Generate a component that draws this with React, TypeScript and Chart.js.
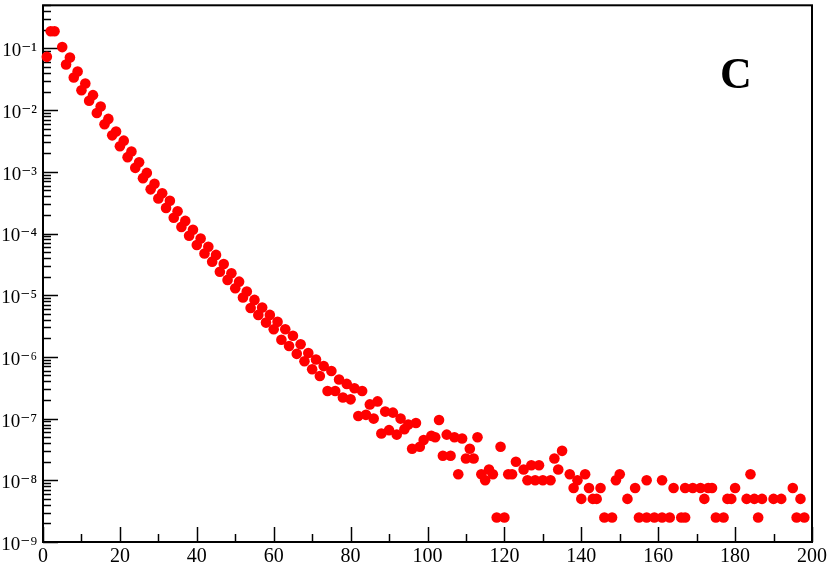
import { useEffect, useRef } from 'react';
import { Chart, registerables } from 'chart.js';

Chart.register(...registerables);

// Data (x: index, y: value on a log scale)
const xValues: number[] = [
  1, 2, 3, 5, 6, 7, 8, 9, 10, 11, 12, 13, 14, 15, 16, 17, 18, 19, 20,
  21, 22, 23, 24, 25, 26, 27, 28, 29, 30, 31, 32, 33, 34, 35, 36, 37, 38, 39, 40,
  41, 42, 43, 44, 45, 46, 47, 48, 49, 50, 51, 52, 53, 54, 55, 56, 57, 58, 59, 60,
  61, 62, 63, 64, 65, 66, 67, 68, 69, 70, 71, 72, 73, 74, 75, 76, 77, 78, 79, 80,
  81, 82, 83, 84, 85, 86, 87, 88, 89, 90, 91, 92, 93, 94, 95, 96, 97, 98, 99,
  101, 102, 103, 104, 105, 106, 107, 108, 109, 110, 111, 112, 113, 114, 115, 116, 117, 118, 119, 120,
  121, 122, 123, 125, 126, 127, 128, 129, 130, 132, 133, 134, 135, 137, 138, 139, 140,
  141, 142, 143, 144, 145, 146, 148, 149, 150, 152, 154, 155, 157, 157, 159, 161, 161, 163, 164,
  166, 167, 167, 169, 171, 172, 173, 174, 175, 177, 178, 179, 180,
  183, 184, 185, 186, 187, 190, 192, 195, 196, 197, 198,
];

const yValues: number[] = [
  0.073, 0.19, 0.19, 0.105, 0.055, 0.071, 0.0337, 0.0421, 0.021, 0.027, 0.0142, 0.0175, 0.009, 0.0114, 0.0059, 0.0072, 0.0039, 0.0045, 0.0026,
  0.0032, 0.00173, 0.00213, 0.00116, 0.00143, 0.00079, 0.00096, 0.00052, 0.00064, 0.00037, 0.00045, 0.00026, 0.00034, 0.00018, 0.00023, 0.000128, 0.00016, 0.000092, 0.000115, 6.5e-5,
  8.3e-5, 4.75e-5, 6.1e-5, 3.5e-5, 4.5e-5, 2.4e-5, 3.2e-5, 1.77e-5, 2.27e-5, 1.3e-5, 1.66e-5, 9.2e-6, 1.15e-5, 6.2e-6, 8.4e-6, 4.8e-6, 6.3e-6, 3.6e-6, 4.8e-6, 2.8e-6,
  3.7e-6, 1.9e-6, 2.8e-6, 1.5e-6, 2.2e-6, 1.12e-6, 1.6e-6, 8.5e-7, 1.16e-6, 6.3e-7, 9.1e-7, 4.9e-7, 7.1e-7, 2.8e-7, 5.9e-7, 2.8e-7, 4.3e-7, 2.2e-7, 3.65e-7, 2.05e-7,
  3.1e-7, 1.1e-7, 2.8e-7, 1.15e-7, 1.7e-7, 1.0e-7, 1.9e-7, 5.75e-8, 1.3e-7, 6.5e-8, 1.25e-7, 5.5e-8, 1.0e-7, 6.75e-8, 8e-8, 3.25e-8, 8.5e-8, 3.5e-8, 4.5e-8,
  5.25e-8, 5e-8, 9.5e-8, 2.5e-8, 5.5e-8, 2.5e-8, 5e-8, 1.25e-8, 4.75e-8, 2.25e-8, 3.25e-8, 2.25e-8, 5e-8, 1.25e-8, 1e-8, 1.5e-8, 1.25e-8, 2.5e-9, 3.5e-8, 2.5e-9,
  1.25e-8, 1.25e-8, 2e-8, 1.5e-8, 1e-8, 1.75e-8, 1e-8, 1.75e-8, 1e-8, 1e-8, 2.25e-8, 1.5e-8, 3e-8, 1.25e-8, 7.5e-9, 1e-8, 5e-9,
  1.25e-8, 7.5e-9, 5e-9, 5e-9, 7.5e-9, 2.5e-9, 2.5e-9, 1e-8, 1.25e-8, 5e-9, 7.5e-9, 2.5e-9, 2.5e-9, 1e-8, 2.5e-9, 2.5e-9, 1e-8, 2.5e-9, 7.5e-9,
  2.5e-9, 2.5e-9, 7.5e-9, 7.5e-9, 7.5e-9, 5e-9, 7.5e-9, 7.5e-9, 2.5e-9, 2.5e-9, 5e-9, 5e-9, 7.5e-9,
  5e-9, 1.25e-8, 5e-9, 2.5e-9, 5e-9, 5e-9, 5e-9, 7.5e-9, 2.5e-9, 5e-9, 2.5e-9,
];

const xTickValues: number[] = [0, 20, 40, 60, 80, 100, 120, 140, 160, 180, 200];
const xTickLabels: string[] = ['0', '20', '40', '60', '80', '100', '120', '140', '160', '180', '200'];
const yTickValues: number[] = [1e-9, 1e-8, 1e-7, 1e-6, 1e-5, 1e-4, 1e-3, 1e-2, 1e-1];
const yTickLabels: string[] = ['10⁻⁹', '10⁻⁸', '10⁻⁷', '10⁻⁶', '10⁻⁵', '10⁻⁴', '10⁻³', '10⁻²', '10⁻¹'];
const panelLabel = 'C';

const SERIF = "'Liberation Serif', 'Times New Roman', 'DejaVu Serif', serif";

const framePlugin = {
  id: 'framePlugin',
  beforeDatasetsDraw(chart: any) {
    const { ctx, chartArea } = chart;
    const xs = chart.scales.x;
    const ys = chart.scales.y;
    const { left, right, top, bottom } = chartArea;
    ctx.save();
    ctx.strokeStyle = '#000';
    ctx.lineWidth = 2;
    ctx.strokeRect(left, top, right - left, bottom - top);
    ctx.lineWidth = 1.5;
    // x ticks (inward)
    const xmin = xs.min, xmax = xs.max;
    for (let v = xmin; v <= xmax + 1e-9; v += 10) {
      const px = Math.round(xs.getPixelForValue(v)) + 0.5;
      const major = Math.abs(v % 20) < 1e-9;
      const len = major ? 15 : 8;
      ctx.beginPath();
      ctx.moveTo(px, bottom);
      ctx.lineTo(px, bottom - len);
      ctx.stroke();
    }
    // y ticks (inward, log)
    for (const dec of yTickValues) {
      for (let m = 1; m <= 9; m++) {
        const v = dec * m;
        if (v < ys.min * 0.999 || v > ys.max * 1.001) continue;
        const py = Math.round(ys.getPixelForValue(v)) + 0.5;
        const len = m === 1 ? 15 : 8;
        ctx.beginPath();
        ctx.moveTo(left, py);
        ctx.lineTo(left + len, py);
        ctx.stroke();
      }
    }
    ctx.restore();
  },
  afterDraw(chart: any) {
    const { ctx } = chart;
    ctx.save();
    ctx.fillStyle = '#000';
    ctx.font = `bold 44px ${SERIF}`;
    ctx.textAlign = 'center';
    ctx.textBaseline = 'alphabetic';
    ctx.fillText(panelLabel, 736, 88);
    ctx.restore();
  },
};

export default function App() {
  const canvasRef = useRef<HTMLCanvasElement | null>(null);

  useEffect(() => {
    const canvas = canvasRef.current;
    if (!canvas) return;
    const points = xValues.map((x, i) => ({ x, y: yValues[i] }));
    const chart = new Chart(canvas, {
      type: 'scatter',
      data: {
        datasets: [
          {
            data: points,
            backgroundColor: '#ff0000',
            borderColor: '#ff0000',
            pointRadius: 5.3,
            pointBorderWidth: 0,
            pointHoverRadius: 5.3,
            clip: false as any,
          },
        ],
      },
      options: {
        animation: false,
        responsive: false,
        events: [],
        layout: { padding: { top: 3, right: 18, left: 0, bottom: 0 } },
        plugins: {
          legend: { display: false },
          tooltip: { enabled: false },
          title: { display: false },
        },
        scales: {
          x: {
            type: 'linear',
            min: 0,
            max: 200,
            grid: { display: false, drawTicks: false },
            border: { display: false },
            afterFit: (scale: any) => {
              scale.height = 25;
              scale.paddingLeft = 0;
              scale.paddingRight = 0;
            },
            afterBuildTicks: (scale: any) => {
              scale.ticks = xTickValues.map((v) => ({ value: v }));
            },
            ticks: {
              autoSkip: false,
              maxRotation: 0,
              padding: 3,
              color: '#000',
              font: { family: SERIF, size: 20 },
              callback: (value: any) => {
                const i = xTickValues.indexOf(Number(value));
                return i >= 0 ? xTickLabels[i] : '';
              },
            },
          },
          y: {
            type: 'logarithmic',
            min: 1e-9,
            max: 0.5,
            grid: { display: false, drawTicks: false },
            border: { display: false },
            afterFit: (scale: any) => {
              scale.width = 43;
              scale.paddingTop = 0;
              scale.paddingBottom = 0;
            },
            afterBuildTicks: (scale: any) => {
              scale.ticks = yTickValues.map((v) => ({ value: v }));
            },
            ticks: {
              autoSkip: false,
              padding: 6,
              labelOffset: 3,
              color: '#000',
              font: { family: SERIF, size: 19 },
              callback: (value: any) => {
                const v = Number(value);
                const i = yTickValues.findIndex((t) => Math.abs(Math.log10(t) - Math.log10(v)) < 1e-6);
                return i >= 0 ? yTickLabels[i] : '';
              },
            },
          },
        },
      },
      plugins: [framePlugin],
    });
    return () => {
      chart.destroy();
    };
  }, []);

  return (
    <div style={{ position: 'absolute', left: 0, top: 0, width: 830, height: 567, background: '#fff' }}>
      <canvas ref={canvasRef} width={830} height={567} style={{ display: 'block', width: 830, height: 567 }} />
    </div>
  );
}
